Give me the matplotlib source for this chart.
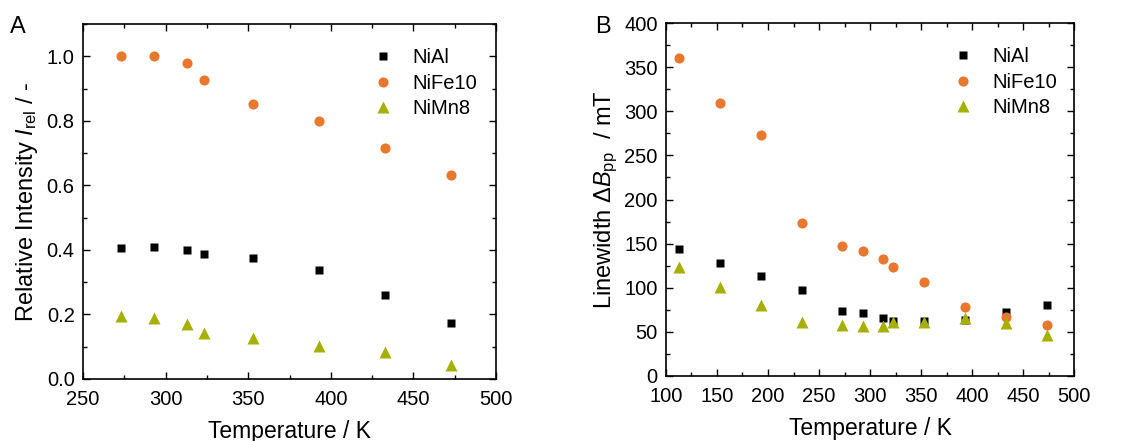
# EPR intensity and linewidth vs temperature for three samples

import matplotlib
matplotlib.use('Agg')
import matplotlib.pyplot as plt
from matplotlib.ticker import MultipleLocator

plt.rcParams['font.family'] = ['Liberation Sans', 'DejaVu Sans']
plt.rcParams['mathtext.fontset'] = 'custom'
plt.rcParams['mathtext.rm'] = 'Liberation Sans'
plt.rcParams['mathtext.it'] = 'Liberation Sans:italic'

# Panel A: relative intensity
temp_a = [273, 293, 313, 323, 353, 393, 433, 473]
nial_a = [0.406, 0.408, 0.400, 0.386, 0.375, 0.337, 0.260, 0.174]
nife_a = [1.000, 1.000, 0.980, 0.925, 0.853, 0.800, 0.717, 0.633]
nimn_a = [0.195, 0.188, 0.170, 0.143, 0.127, 0.103, 0.083, 0.042]

# Panel B: linewidth
temp_b = [113, 153, 193, 233, 273, 293, 313, 323, 353, 393, 433, 473]
nial_b = [144, 128, 113, 98, 74, 71, 66, 62, 62, 64, 72, 80]
nife_b = [360, 309, 273, 173, 147, 142, 133, 123, 107, 78, 67, 58]
nimn_b = [123, 101, 80, 61, 58, 57, 57, 61, 61, 66, 60, 47]

c_al = 'black'
c_fe = '#E8782E'
c_mn = '#A5B000'

fig = plt.figure(figsize=(11.33, 4.41), dpi=100)
ax1 = fig.add_axes([0.0733, 0.1406, 0.3645, 0.805])
ax2 = fig.add_axes([0.5878, 0.1474, 0.3602, 0.8004])

def draw(ax, t, al, fe, mn):
    ax.plot(t, al, 's', color=c_al, ms=6, mec='none', label='NiAl')
    ax.plot(t, fe, 'o', color=c_fe, ms=7.3, mec='none', label='NiFe10')
    ax.plot(t, mn, '^', color=c_mn, ms=8, mec='none', label='NiMn8')
    ax.tick_params(which='both', direction='in', top=True, right=True,
                   labelsize=14.5, width=1)
    ax.tick_params(axis='x', pad=8)
    ax.tick_params(axis='y', pad=6)
    ax.tick_params(which='major', length=5)
    ax.tick_params(which='minor', length=3)
    for s in ax.spines.values():
        s.set_linewidth(1.2)
    ax.set_xlabel('Temperature / K', fontsize=16.5, labelpad=8)
    ax.legend(loc='upper left', frameon=False, fontsize=14.5,
              handlelength=1.0, handletextpad=0.95, borderaxespad=0.0,
              labelspacing=0.33, bbox_to_anchor=(0.683, 0.955))

draw(ax1, temp_a, nial_a, nife_a, nimn_a)
ax1.set_xlim(250, 500)
ax1.set_ylim(0, 1.1)
ax1.xaxis.set_major_locator(MultipleLocator(50))
ax1.xaxis.set_minor_locator(MultipleLocator(25))
ax1.yaxis.set_major_locator(MultipleLocator(0.2))
ax1.yaxis.set_minor_locator(MultipleLocator(0.1))
ax1.set_ylabel(r'Relative Intensity $I_{\mathrm{rel}}$ / -', fontsize=17, labelpad=5)

draw(ax2, temp_b, nial_b, nife_b, nimn_b)
ax2.set_xlim(100, 500)
ax2.set_ylim(0, 400)
ax2.xaxis.set_major_locator(MultipleLocator(50))
ax2.xaxis.set_minor_locator(MultipleLocator(25))
ax2.yaxis.set_major_locator(MultipleLocator(50))
ax2.yaxis.set_minor_locator(MultipleLocator(25))
ax2.set_ylabel(r'Linewidth $\mathit{\Delta B}_{\mathrm{pp}}$  / mT', fontsize=17, labelpad=3)

fig.text(0.009, 0.925, 'A', fontsize=17)
fig.text(0.525, 0.925, 'B', fontsize=17)

fig.savefig('out.png', dpi=100)
